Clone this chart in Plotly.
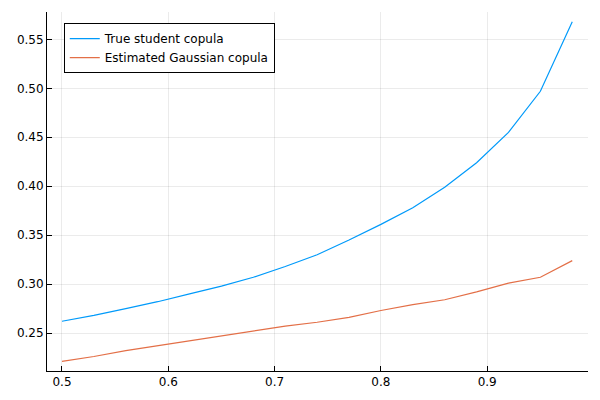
import plotly.graph_objects as go

# correlation grid (x) and the two tail-dependence curves
rho = [0.50, 0.53, 0.56, 0.59, 0.62, 0.65, 0.68, 0.71, 0.74, 0.77,
       0.80, 0.83, 0.86, 0.89, 0.92, 0.95, 0.98]
student = [0.262, 0.268, 0.275, 0.282, 0.290, 0.298, 0.307, 0.318, 0.330,
           0.345, 0.361, 0.378, 0.399, 0.424, 0.455, 0.497, 0.568]
gaussian = [0.221, 0.226, 0.232, 0.237, 0.242, 0.247, 0.252, 0.257, 0.261,
            0.266, 0.273, 0.279, 0.284, 0.292, 0.301, 0.307, 0.324]

fig = go.Figure()
fig.add_trace(go.Scatter(x=rho, y=student, mode="lines",
                         name="True student copula",
                         line=dict(color="#009AFA", width=1.2)))
fig.add_trace(go.Scatter(x=rho, y=gaussian, mode="lines",
                         name="Estimated Gaussian copula",
                         line=dict(color="#E36F47", width=1.2)))

axis_style = dict(
    showgrid=True, gridcolor="rgba(0,0,0,0.08)", gridwidth=1,
    showline=True, linecolor="black", linewidth=1,
    ticks="inside", ticklen=5, tickcolor="black",
    zeroline=False, mirror=False, automargin=False,
    tickfont=dict(family="DejaVu Sans", size=12, color="black"),
)

fig.update_xaxes(range=[0.4859, 0.9948], tickvals=[0.5, 0.6, 0.7, 0.8, 0.9],
                 ticktext=["0.5", "0.6", "0.7", "0.8", "0.9"], **axis_style)
fig.update_yaxes(range=[0.2112, 0.578],
                 tickvals=[0.25, 0.30, 0.35, 0.40, 0.45, 0.50, 0.55],
                 ticktext=["0.25", "0.30", "0.35", "0.40", "0.45", "0.50", "0.55"],
                 **axis_style)

# the page body adds 8px around the figure, so size/margins compensate
fig.update_layout(
    width=584, height=384,
    margin=dict(l=39, r=4, t=4, b=21, autoexpand=False),
    plot_bgcolor="white", paper_bgcolor="white",
    font=dict(family="DejaVu Sans", size=12, color="black"),
    legend=dict(x=0.031, y=0.969, xanchor="left", yanchor="top",
                bgcolor="white", bordercolor="black", borderwidth=1,
                font=dict(size=12), tracegroupgap=0, itemwidth=30),
)

fig.write_html("out.html")
